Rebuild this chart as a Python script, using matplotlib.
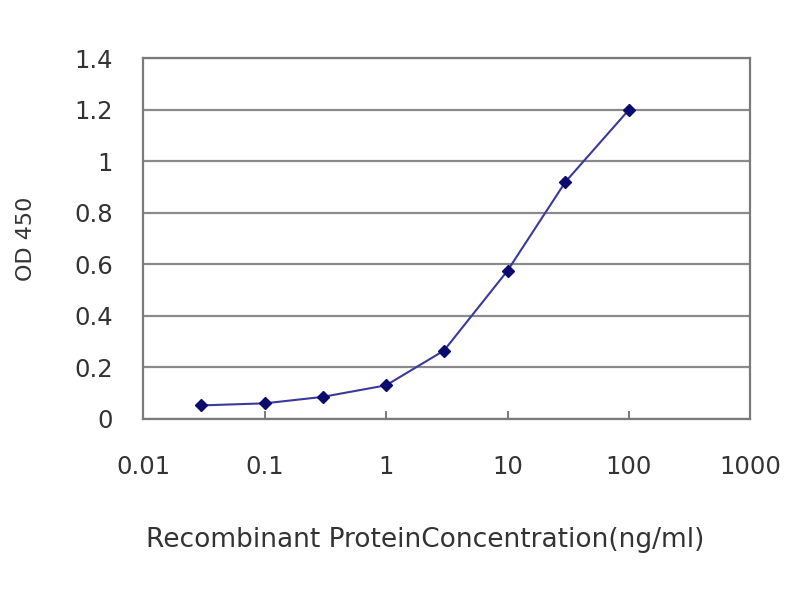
import matplotlib
matplotlib.use("Agg")
import matplotlib.pyplot as plt
from matplotlib.ticker import FixedLocator, NullLocator

# data
conc = [0.03, 0.1, 0.3, 1, 3, 10, 30, 100]
od450 = [0.052, 0.06, 0.085, 0.13, 0.265, 0.575, 0.92, 1.2]
x_ticks = [0.01, 0.1, 1, 10, 100, 1000]
x_tick_labels = ["0.01", "0.1", "1", "10", "100", "1000"]
y_ticks = [0, 0.2, 0.4, 0.6, 0.8, 1, 1.2, 1.4]
y_tick_labels = ["0", "0.2", "0.4", "0.6", "0.8", "1", "1.2", "1.4"]

TEXT = "#333333"
plt.rcParams["font.family"] = ["DejaVu Sans"]

fig = plt.figure(figsize=(8, 6), dpi=100)
ax = fig.add_axes([0.179, 0.302, 0.759, 0.601])

ax.plot(conc, od450, color="#3a3a9a", linewidth=1.5, zorder=3)
ax.plot(conc, od450, linestyle="none", marker="D", markersize=6.5,
        color="#0b0b6e", zorder=4)

ax.set_xscale("log")
ax.set_xlim(0.01, 1000)
ax.set_ylim(0, 1.4)
ax.xaxis.set_major_locator(FixedLocator(x_ticks))
ax.xaxis.set_minor_locator(NullLocator())
ax.set_xticklabels(x_tick_labels)
ax.set_yticks(y_ticks)
ax.set_yticklabels(y_tick_labels)

ax.grid(True, axis="y", color="#8a8a8a", linewidth=1.6)
ax.set_axisbelow(True)
for s in ax.spines.values():
    s.set_color("#7a7a7a")
    s.set_linewidth(1.6)

ax.tick_params(axis="x", direction="in", length=6, width=1.4, color="#7a7a7a",
               labelsize=17.5, labelcolor=TEXT, pad=26)
ax.tick_params(axis="y", length=0, labelsize=17.5, labelcolor=TEXT, pad=22)

ax.set_ylabel("OD 450", fontsize=16, color=TEXT)
ax.yaxis.set_label_coords(-0.177, 0.5)
ax.set_xlabel("Recombinant ProteinConcentration(ng/ml)", fontsize=19,
              color=TEXT)
ax.xaxis.set_label_coords(0.465, -0.30)

plt.savefig("out.png", dpi=100)
